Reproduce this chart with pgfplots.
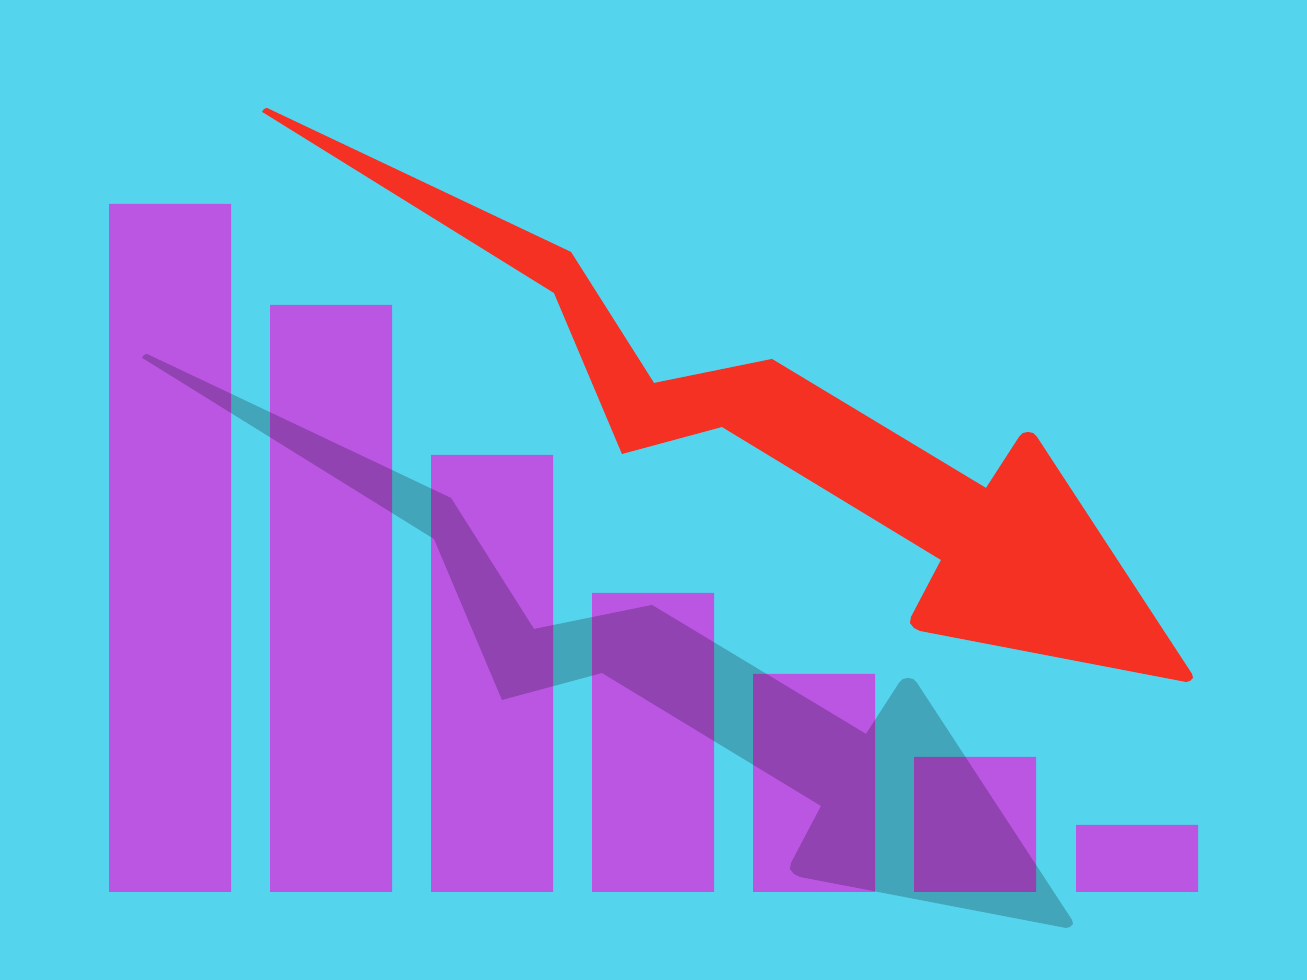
\documentclass[border=0pt]{standalone}
\usepackage{pgfplots}
\usepackage{pgfplotstable}
\pgfplotsset{compat=1.18}

\definecolor{bgblue}{RGB}{85,212,238}
\definecolor{barpurple}{RGB}{187,86,227}
\definecolor{arrowred}{RGB}{245,49,36}

% arrow outline, pixel x and (892 - pixel y)
\pgfplotstableread{
x y
262 780
264 783
267 784
571 640
654 509
772 533
986 404
1019 455
1023 459
1028 460
1033 459
1037 455
1192 218
1193 214
1190 211
1186 210
920 261
914 264
910 269
911 275
941 332
722 465
622 438
554 599
264 779
}\arrowtab

\begin{document}
\begin{tikzpicture}
\begin{axis}[
    scale only axis,
    width=13.07cm, height=9.8cm,
    xmin=0, xmax=1307,
    ymin=-88, ymax=892,
    hide axis,
    clip=true,
]
% background
\addplot[fill=bgblue, draw=none] coordinates {(0,-88) (1307,-88) (1307,892) (0,892)} -- cycle;

% bars
\addplot[ybar, bar width=122, bar shift=0pt, fill=barpurple, draw=none]
    coordinates {(170,688) (331,587) (492,437) (653,299) (814,218) (975,135) (1137,67)};

% shadow of the arrow
\addplot[fill=black, fill opacity=0.22, draw=none]
    table[x expr=\thisrow{x}-120, y expr=\thisrow{y}-246] {\arrowtab} -- cycle;

% arrow
\addplot[fill=arrowred, draw=none]
    table[x=x, y=y] {\arrowtab} -- cycle;
\end{axis}
\end{tikzpicture}
\end{document}
